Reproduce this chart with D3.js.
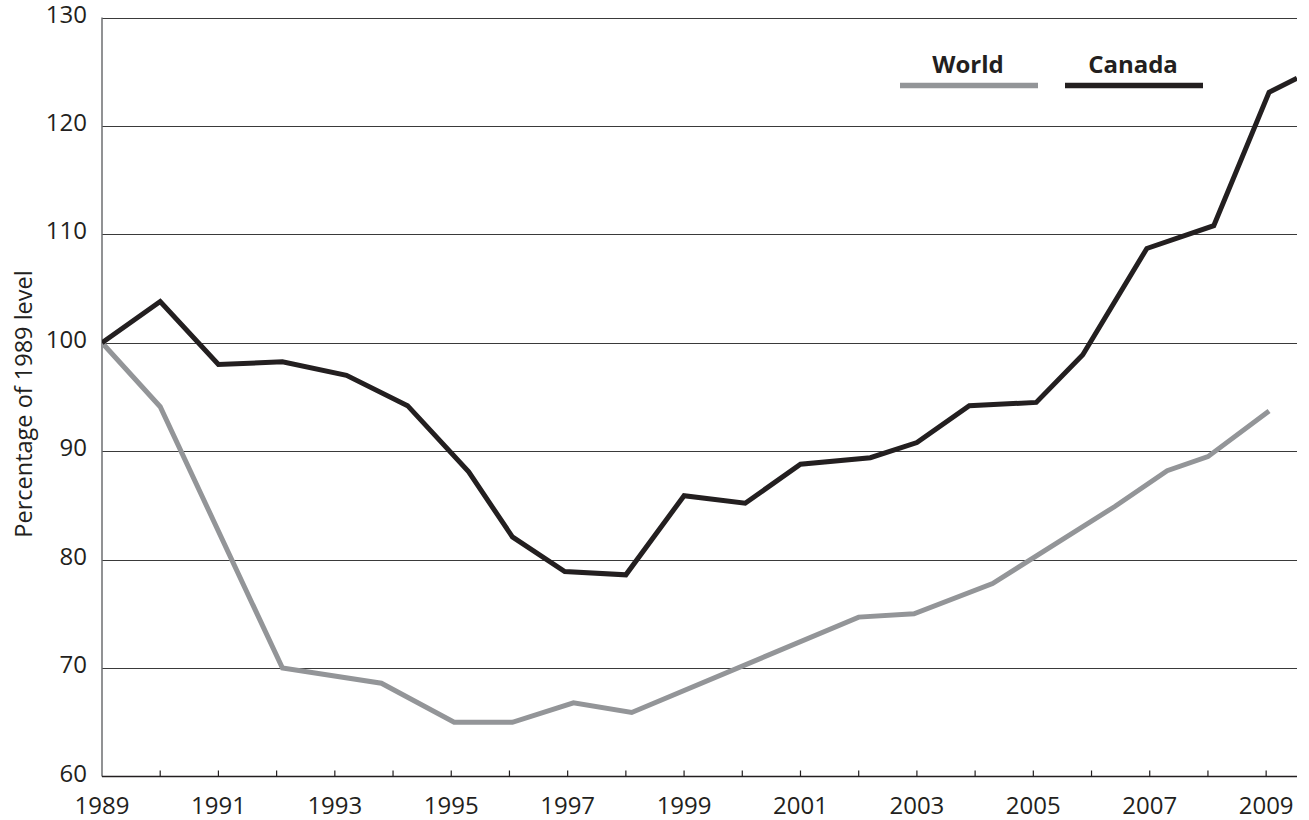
<!DOCTYPE html>
<html>
<head>
<meta charset="utf-8">
<script src="https://cdn.jsdelivr.net/npm/d3@7"></script>
<style>
  html, body { margin: 0; padding: 0; background: #fff; }
  svg text { font-family: 'Open Sans', 'Noto Sans', sans-serif; fill: #231f20; }
</style>
</head>
<body>
<div id="chart"></div>
<script>
// ── data ─────────────────────────────────────────────────────────
const canadaYears  = [1989, 1990, 1991, 1992.1, 1993.2, 1994.25, 1995.3, 1996.05, 1996.95, 1998, 1999,
                      2000.05, 2001, 2002.2, 2003, 2003.9, 2005.05, 2005.85, 2006.95, 2008.1, 2009.05, 2009.53]
const canadaValues = [100, 103.8, 98.0, 98.25, 97.0, 94.2, 88.1, 82.1, 78.9, 78.6, 85.9,
                      85.2, 88.8, 89.4, 90.8, 94.2, 94.5, 98.9, 108.7, 110.8, 123.1, 124.4]

const worldYears  = [1989, 1990, 1992.1, 1993.8, 1995.05, 1996.05, 1997.1, 1998.1, 2002, 2002.95,
                     2004.3, 2006.4, 2007.3, 2008, 2009.05]
const worldValues = [100, 94.1, 70.0, 68.6, 65.0, 65.0, 66.8, 65.9, 74.7, 75.0,
                     77.8, 84.9, 88.2, 89.5, 93.7]

const seriesNames = ['World', 'Canada']
const yTicks = [60, 70, 80, 90, 100, 110, 120, 130]
const xTickYears = d3.range(1989, 2010)
const xLabelYears = xTickYears.filter(y => (y - 1989) % 2 === 0)
const yTitle = 'Percentage of 1989 level'

const COLORS = { World: '#939598', Canada: '#231f20' }

// ── layout ───────────────────────────────────────────────────────
const WIDTH = 1309, HEIGHT = 820
const X0 = 102, X1 = 1297
const Y0 = 776.5, Y1 = 17.5

const svg = d3.select('#chart').append('svg')
  .attr('width', WIDTH)
  .attr('height', HEIGHT)

const x = d3.scaleLinear().domain([1989, 2009.53]).range([X0, X1])
const y = d3.scaleLinear().domain([60, 130]).range([Y0, Y1])

// ── grid ─────────────────────────────────────────────────────────
svg.append('g').selectAll('line')
  .data(yTicks.filter(v => v > 60))
  .join('line')
  .attr('x1', X0).attr('x2', X1)
  .attr('y1', d => Math.round(y(d)) + 0.5).attr('y2', d => Math.round(y(d)) + 0.5)
  .attr('stroke', '#3a3a3a')
  .attr('stroke-width', 1)

// ── axes ─────────────────────────────────────────────────────────
svg.append('line')
  .attr('x1', X0).attr('x2', X0)
  .attr('y1', y(130)).attr('y2', Y0)
  .attr('stroke', '#6d6e71').attr('stroke-width', 1.5)

svg.append('line')
  .attr('x1', X0).attr('x2', X1)
  .attr('y1', Y0).attr('y2', Y0)
  .attr('stroke', '#231f20').attr('stroke-width', 1.5)

svg.append('g').selectAll('line')
  .data(xTickYears.slice(1))
  .join('line')
  .attr('x1', d => x(d)).attr('x2', d => x(d))
  .attr('y1', Y0).attr('y2', Y0 - 6)
  .attr('stroke', '#231f20').attr('stroke-width', 1.2)

svg.append('g').selectAll('text')
  .data(xLabelYears)
  .join('text')
  .attr('x', d => x(d))
  .attr('y', 814)
  .attr('text-anchor', 'middle')
  .style('font-size', '24px')
  .text(d => d)

svg.append('g').selectAll('text')
  .data(yTicks)
  .join('text')
  .attr('x', 87)
  .attr('y', d => y(d) + 5)
  .attr('text-anchor', 'end')
  .style('font-size', '24px')
  .text(d => d)

svg.append('text')
  .attr('transform', 'translate(32,404) rotate(-90)')
  .attr('text-anchor', 'middle')
  .style('font-size', '23.5px')
  .text(yTitle)

// ── lines ────────────────────────────────────────────────────────
const line = d3.line().x(d => x(d[0])).y(d => y(d[1]))

svg.append('defs').append('clipPath').attr('id', 'plot')
  .append('rect').attr('x', X0).attr('y', 0).attr('width', X1 - X0).attr('height', Y0)

const gLines = svg.append('g').attr('clip-path', 'url(#plot)')

gLines.append('path')
  .datum(d3.zip(worldYears, worldValues))
  .attr('d', line)
  .attr('fill', 'none')
  .attr('stroke', COLORS.World)
  .attr('stroke-width', 5)
  .attr('stroke-linejoin', 'miter')

gLines.append('path')
  .datum(d3.zip(canadaYears, canadaValues))
  .attr('d', line)
  .attr('fill', 'none')
  .attr('stroke', COLORS.Canada)
  .attr('stroke-width', 5)
  .attr('stroke-linejoin', 'miter')

// ── legend ───────────────────────────────────────────────────────
const legendX = [900, 1065]
const gLegend = svg.append('g')
seriesNames.forEach((name, i) => {
  const g = gLegend.append('g').attr('transform', `translate(${legendX[i]},0)`)
  g.append('line')
    .attr('x1', 0).attr('x2', 138)
    .attr('y1', 85.5).attr('y2', 85.5)
    .attr('stroke', COLORS[name]).attr('stroke-width', 5.5)
  g.append('text')
    .attr('x', 68).attr('y', 73)
    .attr('text-anchor', 'middle')
    .style('font-size', '24px')
    .style('font-weight', 'bold')
    .text(name)
})
</script>
</body>
</html>
